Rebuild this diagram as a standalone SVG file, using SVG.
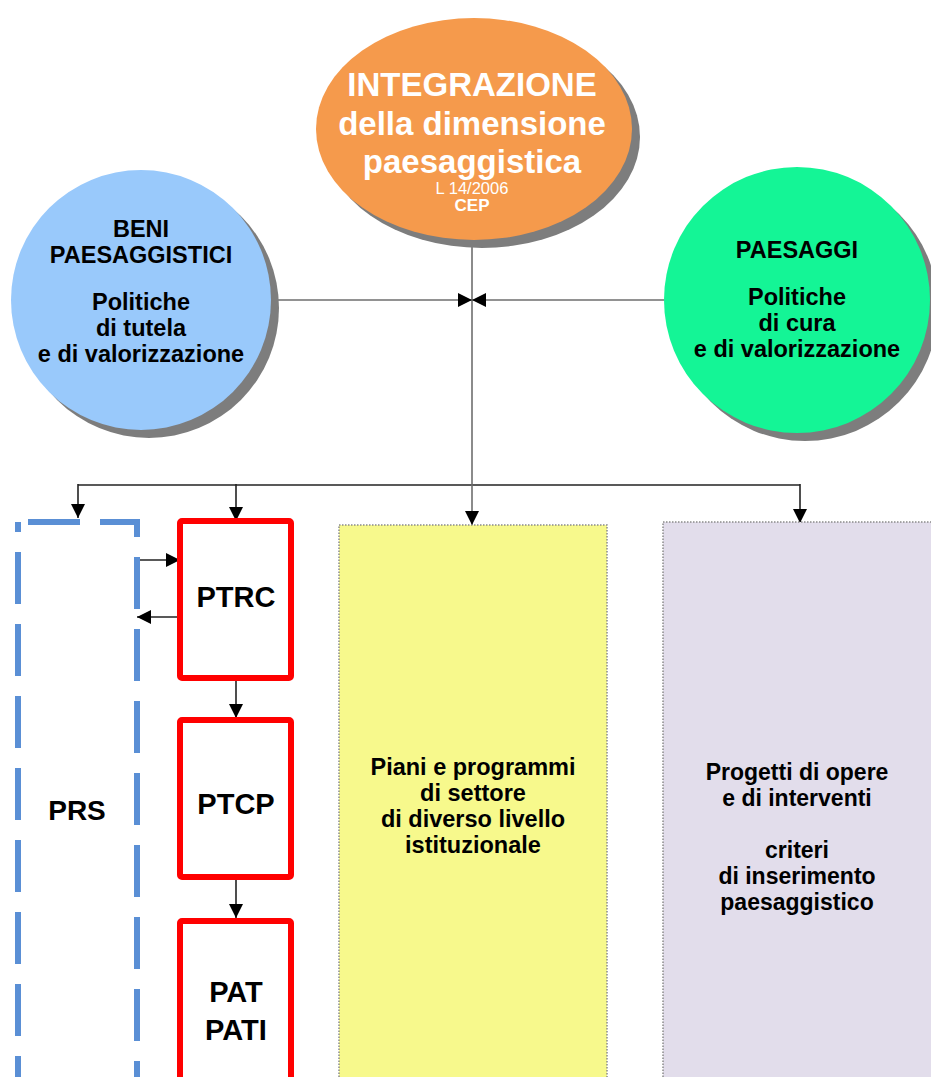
<svg xmlns="http://www.w3.org/2000/svg" width="931" height="1077" viewBox="0 0 931 1077">
  <defs>
    <marker id="arrow" viewBox="0 0 10 10" refX="10" refY="5" markerWidth="14" markerHeight="14" markerUnits="userSpaceOnUse" orient="auto">
      <path d="M0,0 L10,5 L0,10 z" fill="#000"/>
    </marker>
    <style>
      .shadow { fill: #7d7d7d; }
      .lbl { font-family: "Liberation Sans", Arial, sans-serif; font-weight: bold; text-anchor: middle; fill: #000; }
      .wlbl { font-family: "Liberation Sans", Arial, sans-serif; font-weight: bold; text-anchor: middle; fill: #fff; }
      .conn { fill: none; stroke: #222; stroke-width: 1.6; }
      .gconn { fill: none; stroke: #6e6e6e; stroke-width: 1.6; }
      .plan { fill: #fff; stroke: #ff0000; stroke-width: 6; }
      .sector { stroke: #8a8a8a; stroke-width: 1.5; stroke-dasharray: 1.5 1.5; }
    </style>
  </defs>
  <rect width="931" height="1077" fill="#fff"/>

  <!-- connectors -->
  <g id="connectors">
    <line class="gconn" x1="472" y1="243" x2="472" y2="485"/>
    <line class="gconn" x1="274" y1="300" x2="472" y2="300" marker-end="url(#arrow)"/>
    <line class="gconn" x1="664" y1="300" x2="472" y2="300" marker-end="url(#arrow)"/>
    <line class="conn" x1="78" y1="485" x2="800" y2="485"/>
    <line class="conn" x1="78" y1="484" x2="78" y2="518" marker-end="url(#arrow)"/>
    <line class="conn" x1="236" y1="484" x2="236" y2="521" marker-end="url(#arrow)"/>
    <line class="gconn" x1="472" y1="484" x2="472" y2="525" marker-end="url(#arrow)"/>
    <line class="conn" x1="800" y1="484" x2="800" y2="523" marker-end="url(#arrow)"/>
    <line class="conn" x1="137" y1="560" x2="180" y2="560" marker-end="url(#arrow)"/>
    <line class="conn" x1="180" y1="617" x2="137" y2="617" marker-end="url(#arrow)"/>
    <line class="conn" x1="236" y1="678" x2="236" y2="718" marker-end="url(#arrow)"/>
    <line class="conn" x1="236" y1="876" x2="236" y2="918" marker-end="url(#arrow)"/>
  </g>

  <!-- central node -->
  <g id="integrazione">
    <ellipse class="shadow" cx="482" cy="137" rx="158" ry="111"/>
    <ellipse cx="474" cy="129" rx="158" ry="111" fill="#f59a4c"/>
    <text class="wlbl" x="472" y="96" font-size="33">INTEGRAZIONE</text>
    <text class="wlbl" x="472" y="135" font-size="33">della dimensione</text>
    <text class="wlbl" x="472" y="173" font-size="33">paesaggistica</text>
    <text x="472" y="194" font-size="16.5" font-family="Liberation Sans, Arial, sans-serif" text-anchor="middle" fill="#fff">L 14/2006</text>
    <text class="wlbl" x="472" y="211" font-size="17">CEP</text>
  </g>

  <!-- heritage node -->
  <g id="beni">
    <circle class="shadow" cx="149" cy="308" r="130"/>
    <circle cx="141" cy="300" r="130" fill="#99c9fb"/>
    <text class="lbl" x="141" y="237" font-size="23.5">BENI</text>
    <text class="lbl" x="141" y="263" font-size="23.5">PAESAGGISTICI</text>
    <text class="lbl" x="141" y="310" font-size="23.5">Politiche</text>
    <text class="lbl" x="141" y="336" font-size="23.5">di tutela</text>
    <text class="lbl" x="141" y="362" font-size="23.5">e di valorizzazione</text>
  </g>

  <!-- landscapes node -->
  <g id="paesaggi">
    <circle class="shadow" cx="805" cy="308" r="133"/>
    <circle cx="797" cy="300" r="133" fill="#14f596"/>
    <text class="lbl" x="797" y="258" font-size="23.5">PAESAGGI</text>
    <text class="lbl" x="797" y="305" font-size="23.5">Politiche</text>
    <text class="lbl" x="797" y="331" font-size="23.5">di cura</text>
    <text class="lbl" x="797" y="357" font-size="23.5">e di valorizzazione</text>
  </g>

  <!-- regional development programme -->
  <g id="prs">
    <rect x="18" y="522" width="119" height="575" fill="none" stroke="#5a8fd5" stroke-width="6" stroke-dasharray="52 20" stroke-dashoffset="-10"/>
    <text class="lbl" x="77" y="820" font-size="28">PRS</text>
  </g>

  <g id="ptrc">
    <rect class="plan" x="180" y="521" width="111" height="157" rx="2"/>
    <text class="lbl" x="236" y="607" font-size="29">PTRC</text>
  </g>

  <g id="ptcp">
    <rect class="plan" x="180" y="720" width="111" height="157" rx="2"/>
    <text class="lbl" x="236" y="814" font-size="29">PTCP</text>
  </g>

  <g id="pat">
    <rect class="plan" x="180" y="921" width="111" height="176" rx="2"/>
    <text class="lbl" x="236" y="1002" font-size="29">PAT</text>
    <text class="lbl" x="236" y="1040" font-size="29">PATI</text>
  </g>

  <g id="piani">
    <rect class="sector" x="339" y="525" width="268" height="560" fill="#f7f98c"/>
    <text class="lbl" x="473" y="775" font-size="23.5">Piani e programmi</text>
    <text class="lbl" x="473" y="801" font-size="23.5">di settore</text>
    <text class="lbl" x="473" y="827" font-size="23.5">di diverso livello</text>
    <text class="lbl" x="473" y="853" font-size="23.5">istituzionale</text>
  </g>

  <g id="progetti">
    <rect class="sector" x="663" y="522" width="280" height="563" fill="#e2ddeb"/>
    <text class="lbl" x="797" y="780" font-size="23">Progetti di opere</text>
    <text class="lbl" x="797" y="806" font-size="23">e di interventi</text>
    <text class="lbl" x="797" y="858" font-size="23">criteri</text>
    <text class="lbl" x="797" y="884" font-size="23">di inserimento</text>
    <text class="lbl" x="797" y="910" font-size="23">paesaggistico</text>
  </g>
</svg>
